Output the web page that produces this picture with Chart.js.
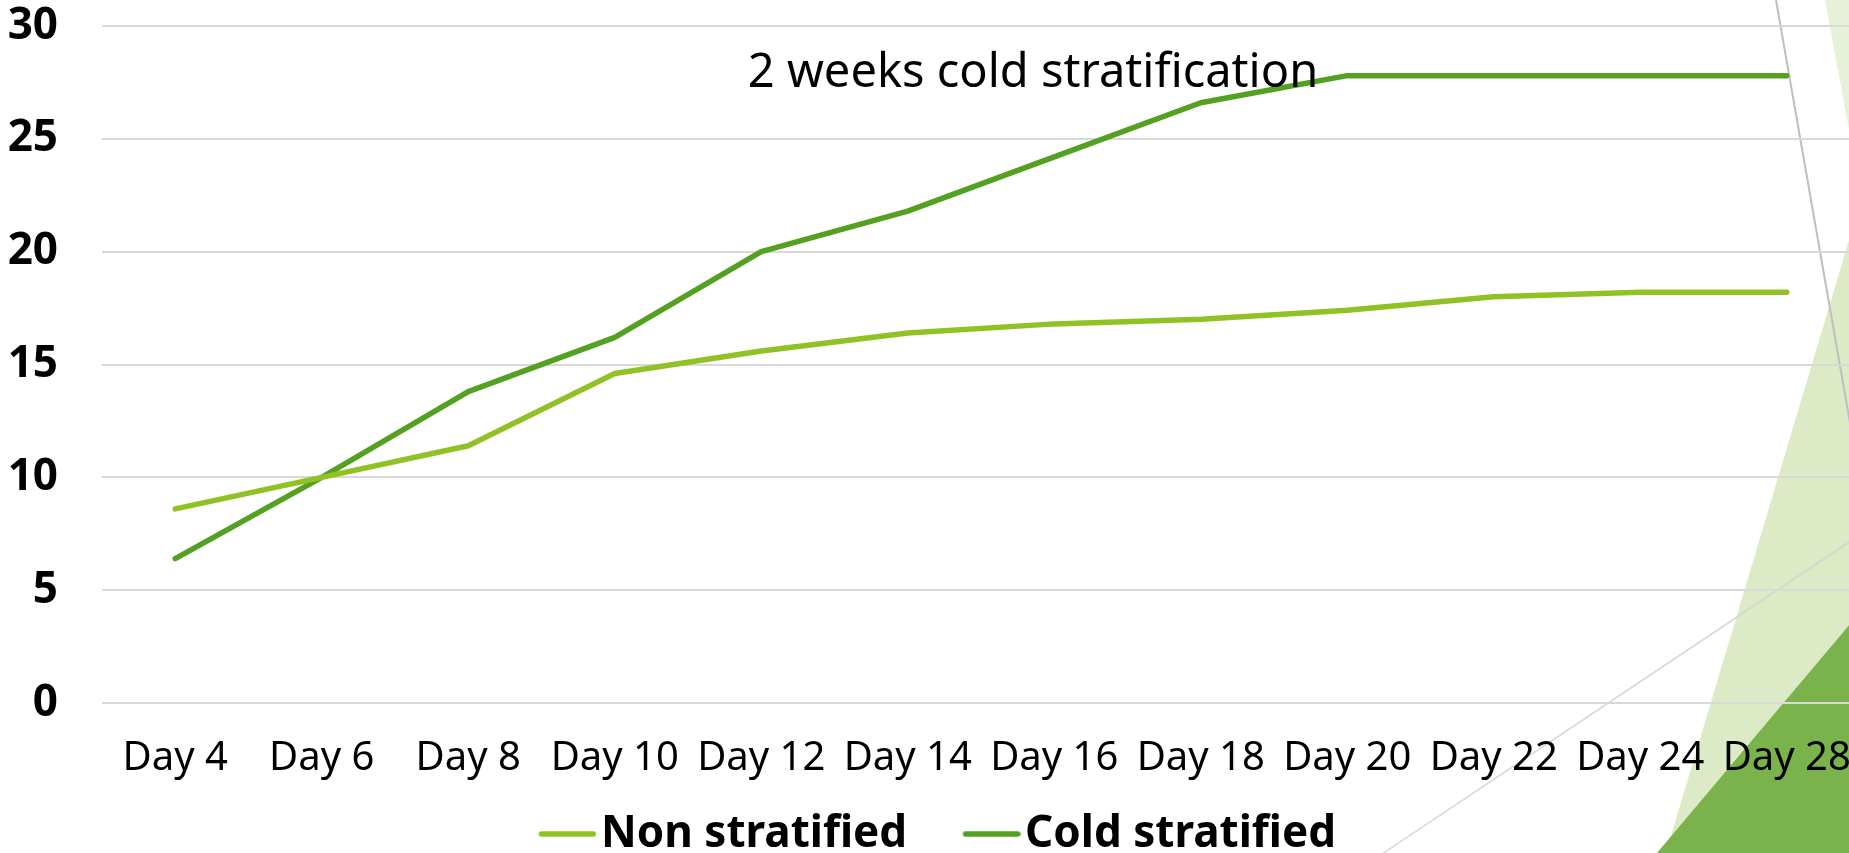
<!DOCTYPE html>
<html>
<head>
<meta charset="utf-8">
<title>Germination</title>
<script src="https://cdn.jsdelivr.net/npm/chart.js@4.4.0/dist/chart.umd.min.js"></script>
<style>
    html, body { margin: 0; padding: 0; background: #fff; overflow: hidden; }
    #wrap { position: relative; width: 1860px; height: 866px; }
</style>
</head>
<body>
<div id="wrap"><canvas id="chart"></canvas></div>
<script>
// 日数ごとの発芽数
const days = ['Day 4', 'Day 6', 'Day 8', 'Day 10', 'Day 12', 'Day 14', 'Day 16', 'Day 18', 'Day 20', 'Day 22', 'Day 24', 'Day 28'];
const nonStratified = [8.6, 10.0, 11.4, 14.6, 15.6, 16.4, 16.8, 17.0, 17.4, 18.0, 18.2, 18.2];
const coldStratified = [6.4, 10.0, 13.8, 16.2, 20.0, 21.8, 24.2, 26.6, 27.8, 27.8, 27.8, 27.8];
const yMin = 0, yMax = 30, yStep = 5;
const noteText = '2 weeks cold stratification';

const FONT = '"Noto Sans", "Open Sans", sans-serif';

// 凡例用の線（画像の右寄りに描いて文字との間隔を詰める）
function legendSwatch(color) {
    const c = document.createElement('canvas');
    c.width = 102;
    c.height = 12;
    const g = c.getContext('2d');
    g.strokeStyle = color;
    g.lineWidth = 5.5;
    g.lineCap = 'round';
    g.beginPath();
    g.moveTo(47, 6);
    g.lineTo(99, 6);
    g.stroke();
    return c;
}

// スライド右側の三角形の飾り（チャートの背面に描く）
const slideDecor = {
    id: 'slideDecor',
    beforeDraw(chart) {
        const ctx = chart.ctx;
        const poly = (pts, color) => {
            ctx.beginPath();
            ctx.moveTo(pts[0][0], pts[0][1]);
            pts.slice(1).forEach(p => ctx.lineTo(p[0], p[1]));
            ctx.closePath();
            ctx.fillStyle = color;
            ctx.fill();
        };
        ctx.save();
        poly([[1825, 0], [1872, 0], [1872, 254]], '#E7F1D8');
        poly([[1872, 163], [1872, 866], [1662, 866]], '#DCEBC5');
        poly([[1872, 598], [1872, 866], [1646, 866]], '#7AB34B');
        ctx.lineWidth = 2;
        ctx.strokeStyle = '#BFBFBF';
        ctx.beginPath();
        ctx.moveTo(1776, 0);
        ctx.lineTo(1853, 440);
        ctx.stroke();
        ctx.lineWidth = 1.5;
        ctx.strokeStyle = '#D4D4D4';
        ctx.beginPath();
        ctx.moveTo(1367, 864);
        ctx.lineTo(1872, 527);
        ctx.stroke();
        ctx.restore();
    }
};

// 「2 weeks cold stratification」の注記
const noteLabel = {
    id: 'noteLabel',
    afterDatasetsDraw(chart) {
        const ctx = chart.ctx;
        ctx.save();
        ctx.font = '47px ' + FONT;
        ctx.fillStyle = '#000';
        ctx.textAlign = 'center';
        ctx.textBaseline = 'alphabetic';
        ctx.fillText(noteText, 1033, 87);
        ctx.restore();
    }
};

const ctx = document.getElementById('chart').getContext('2d');
const chart = new Chart(ctx, {
    type: 'line',
    data: {
        labels: days,
        datasets: [{
            label: 'Non stratified',
            data: nonStratified,
            borderColor: '#90C226',
            backgroundColor: '#90C226',
            borderWidth: 5.5,
            borderCapStyle: 'round',
            borderJoinStyle: 'round',
            pointRadius: 0,
            pointStyle: legendSwatch('#90C226'),
            tension: 0
        }, {
            label: 'Cold stratified',
            data: coldStratified,
            borderColor: '#54A021',
            backgroundColor: '#54A021',
            borderWidth: 5.5,
            borderCapStyle: 'round',
            borderJoinStyle: 'round',
            pointRadius: 0,
            pointStyle: legendSwatch('#54A021'),
            tension: 0
        }]
    },
    options: {
        responsive: true,
        maintainAspectRatio: false,
        devicePixelRatio: 1,
        animation: false,
        // 左を少し負にして凡例の中心を左へ寄せる（y 軸幅で相殺）
        layout: { padding: { top: 26, left: -12, right: 0, bottom: 0 } },
        scales: {
            x: {
                offset: true,
                grid: { display: false, drawTicks: false },
                border: { display: false },
                ticks: {
                    color: '#000',
                    font: { family: FONT, size: 40, lineHeight: 1 },
                    padding: 36,
                    maxRotation: 0,
                    autoSkip: false
                },
                afterFit: scale => {
                    scale.height = 80;
                    scale.paddingLeft = 0;
                    scale.paddingRight = 0;
                }
            },
            y: {
                min: yMin,
                max: yMax,
                grid: { color: '#D9D9D9', lineWidth: 2, drawTicks: false },
                border: { display: false },
                ticks: {
                    stepSize: yStep,
                    color: '#000',
                    font: { family: FONT, size: 44, weight: 'bold', lineHeight: 1 },
                    padding: 44
                },
                afterFit: scale => {
                    // 軸幅を固定し、ラベル分の上下余白は layout.padding に任せる
                    scale.width = 114;
                    scale.paddingTop = 0;
                    scale.paddingBottom = 0;
                }
            }
        },
        plugins: {
            legend: {
                position: 'bottom',
                labels: {
                    usePointStyle: true,
                    pointStyleWidth: 67,
                    color: '#000',
                    font: { family: FONT, size: 44, weight: 'bold' },
                    padding: 29
                }
            },
            tooltip: { enabled: false }
        }
    },
    plugins: [slideDecor, noteLabel]
});
</script>
</body>
</html>
